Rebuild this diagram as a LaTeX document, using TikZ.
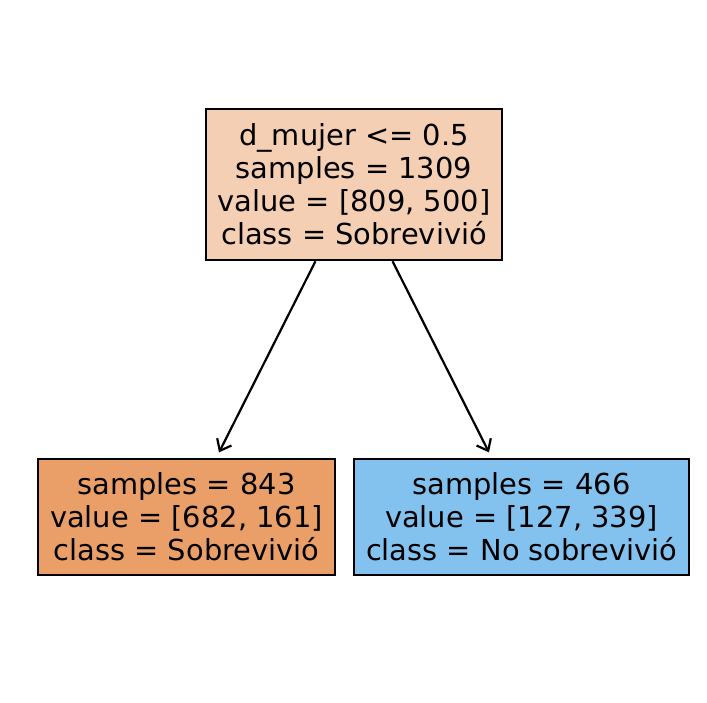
\documentclass[tikz,border=0pt]{standalone}
\usepackage{fontspec}
\setmainfont{DejaVu Sans}
\usetikzlibrary{arrows.meta}

\definecolor{rootfill}{RGB}{245,207,179}
\definecolor{leftfill}{RGB}{235,159,104}
\definecolor{rightfill}{RGB}{131,194,239}

\tikzset{
 treebox/.style={draw=black,line width=2.5pt,align=center,inner sep=0pt,
  font=\fontsize{28.9}{33}\selectfont},
 treearrow/.style={line width=2.2pt,-{Straight Barb[length=10pt,width=16pt,line width=2.2pt]},shorten >=6pt}
}

\begin{document}
\begin{tikzpicture}[x=1pt,y=-1pt]
 \useasboundingbox[fill=white] (0,0) rectangle (707,703); %canvas
 \node[treebox,fill=rootfill,minimum width=296pt,minimum height=151pt] (root) at (354,184.5)
  {d\_mujer <= 0.5\\samples = 1309\\value = [809, 500]\\class = Sobrevivió}; %root
 \node[treebox,fill=leftfill,minimum width=297pt,minimum height=116pt] (left) at (186.5,517)
  {samples = 843\\value = [682, 161]\\class = Sobrevivió}; %left leaf
 \node[treebox,fill=rightfill,minimum width=335pt,minimum height=116pt] (right) at (521.5,517)
  {samples = 466\\value = [127, 339]\\class = No sobrevivió}; %right leaf
 \draw[treearrow] (root) -- (left);
 \draw[treearrow] (root) -- (right);
\end{tikzpicture}
\end{document}
